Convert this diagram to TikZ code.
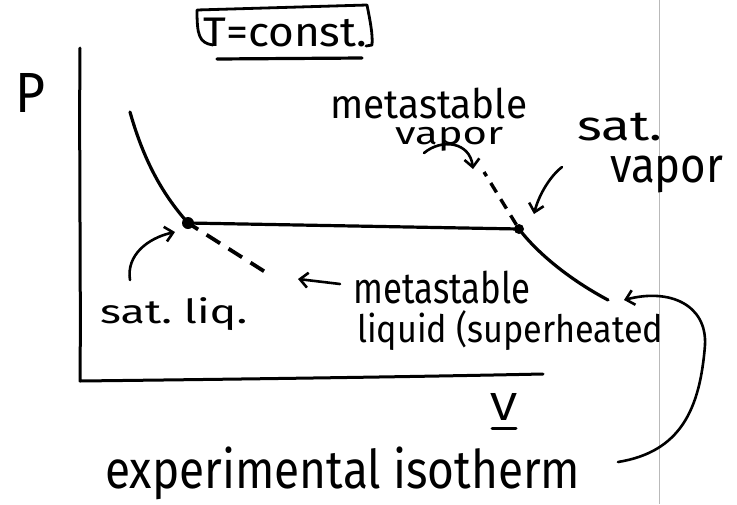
\documentclass[tikz,border=0pt]{standalone}
\usepackage{fontspec}
\usepackage{graphicx}
\setmainfont{Fira Sans}
\usetikzlibrary{arrows.meta}
\begin{document}
\begin{tikzpicture}[x=1pt,y=-1pt,
  ink/.style={line width=3.2pt, line cap=round, line join=round},
  axis/.style={line width=3pt, line cap=round, line join=round},
  metaline/.style={line width=3.8pt, dash pattern=on 16pt off 10pt, dash phase=4pt},
  pointer/.style={line width=2.6pt, line cap=round,
    -{Straight Barb[length=8pt,width=15pt]}},
  hand/.style={inner sep=0pt, anchor=north west},
  state/.style={circle, fill=black, inner sep=0pt, minimum size=12pt}]

\useasboundingbox (0,0) rectangle (737,504);
\fill[white] (0,0) rectangle (737,504);

% fold of the sheet
\draw[gray!55, line width=0.8pt] (659,0) -- (659,504);

% axes
\coordinate (ytop) at (80,48);
\coordinate (o) at (80,381);
\coordinate (xend) at (543,374);
\draw[axis] (ytop) .. controls (79,150) and (81,300) .. (o)
  .. controls (250,379) and (400,377) .. (xend);
\node[hand] (pres) at (15,73) {\resizebox*{30pt}{39pt}{P}};
\node[hand] (vol) at (490,393) {\resizebox*{27pt}{27pt}{V}};
\draw[ink, line width=3pt] (492,428) -- (516,428);

% title box
\node[hand] (tc) at (203,18) {\resizebox*{164pt}{29pt}{T=const.}};
\draw[ink, line width=2.8pt] (213,45) .. controls (199,43) and (197,35) .. (197,10)
  -- (367,5) .. controls (370,20) and (373,35) .. (372,45) -- (366,46);
\draw[ink] (217,59) -- (362,58);

% isotherm
\node[state] (sl) at (188,223) {};
\node[state, minimum size=10pt] (sv) at (519,229) {};
\coordinate (lt) at (130,112);
\coordinate (re) at (608,300);
\coordinate (ml) at (270,275);
\coordinate (mv) at (484,172);
\draw[ink] (lt) .. controls (145,165) and (165,197) .. (sl.center)
  -- (sv.center) .. controls (535,250) and (565,277) .. (re);
\draw[metaline] (sl.center) -- (ml);
\draw[metaline, line width=3.4pt, dash pattern=on 11pt off 8pt, dash phase=-5pt] (sv.center) -- (mv);

% labels
\node[hand] (mvt) at (330,88) {\resizebox*{197pt}{31pt}{metastable}};
\node[hand] (mvb) at (395,127) {\resizebox*{108pt}{24pt}{vapor}};
\node[hand] (svt) at (577,113) {\resizebox*{85pt}{28pt}{sat.}};
\node[hand] (svb) at (610,156) {\resizebox*{113pt}{37pt}{vapor}};
\node[hand] (slq) at (100,297) {\resizebox*{147pt}{33pt}{sat.\ liq.}};
\node[hand] (mlt) at (353,271) {\resizebox*{177pt}{33pt}{metastable}};
\node[hand] (mlb) at (357,310) {\resizebox*{306pt}{40pt}{liquid (superheated}};
\node[hand] (iso) at (105,447) {\resizebox*{475pt}{53pt}{experimental isotherm}};

% pointers
\coordinate (p1) at (130,280);
\coordinate (t1) at (175,232);
\draw[pointer] (p1) .. controls (126,255) and (148,238) .. (t1);
\coordinate (p2) at (424,153);
\coordinate (t2) at (473,169);
\draw[pointer] (p2) .. controls (442,138) and (470,142) .. (t2);
\coordinate (p3) at (562,167);
\coordinate (t3) at (534,214);
\draw[pointer] (p3) .. controls (548,178) and (538,198) .. (t3);
\coordinate (p4) at (340,284);
\coordinate (t4) at (298,279);
\draw[pointer] (p4) -- (t4);
\coordinate (p5) at (618,462);
\coordinate (t5) at (624,300);
\draw[pointer] (p5) .. controls (680,452) and (700,410) .. (705,345)
  .. controls (707,305) and (670,288) .. (t5);
\end{tikzpicture}
\end{document}
